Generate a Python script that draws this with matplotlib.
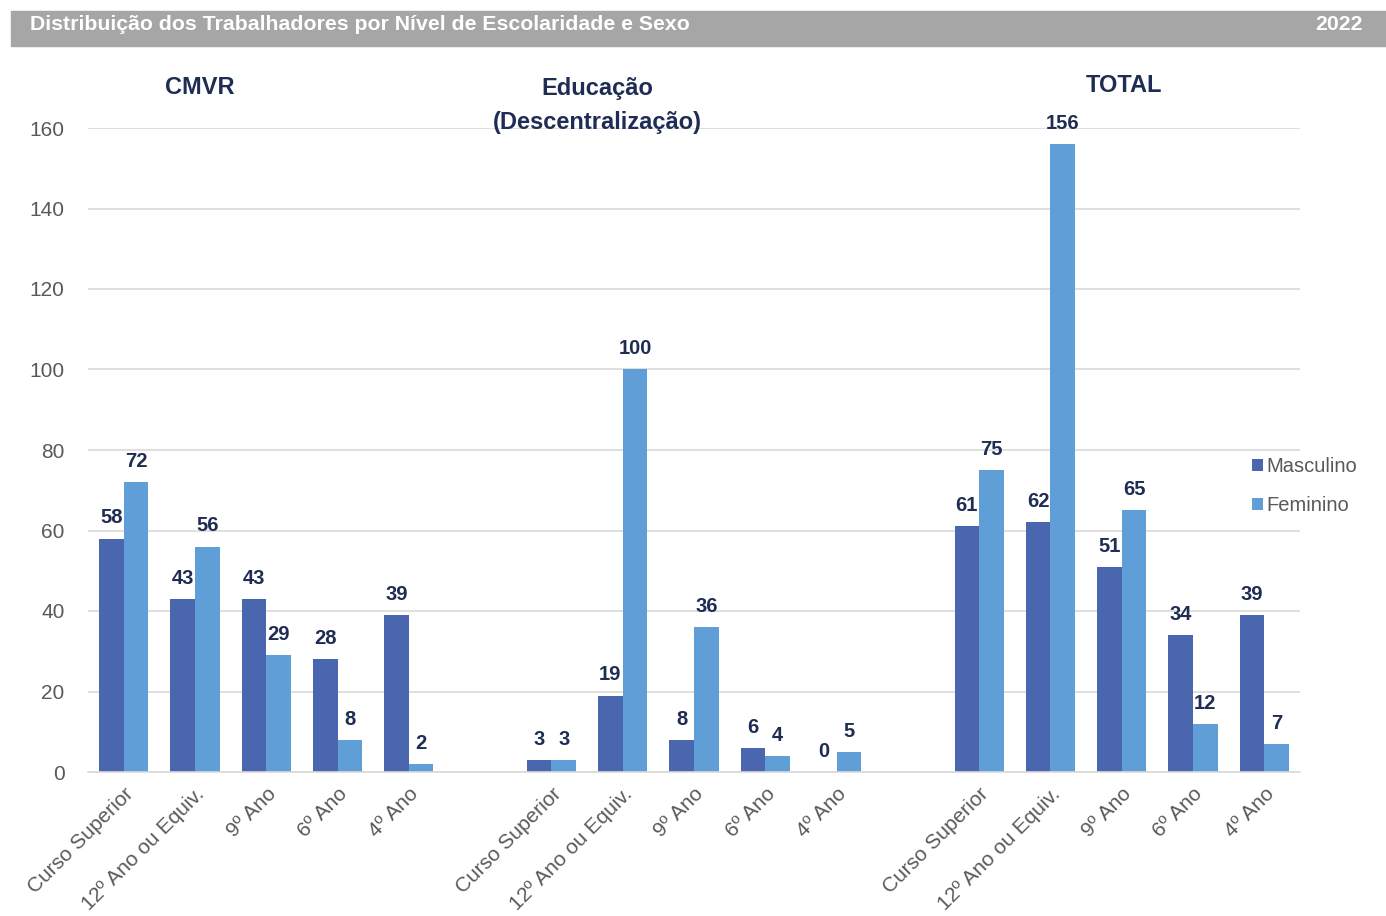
import numpy as np
import matplotlib.pyplot as plt

plt.rcParams['font.family'] = ['Liberation Sans', 'DejaVu Sans']

# data
levels = ['Curso Superior', '12º Ano ou Equiv.', '9º Ano', '6º Ano', '4º Ano']
groups = ['CMVR', 'Educação\n(Descentralização)', 'TOTAL']
masculino = [[58, 43, 43, 28, 39], [3, 19, 8, 6, 0], [61, 62, 51, 34, 39]]
feminino = [[72, 56, 29, 8, 2], [3, 100, 36, 4, 5], [75, 156, 65, 12, 7]]

c_masc = '#4A66AE'
c_fem = '#5F9ED6'
navy = '#1F2D54'
gray_txt = '#595959'

fig = plt.figure(figsize=(13.86, 9.16), dpi=100)
W, H = 1386, 916

# header bar
fig.patches.append(plt.Rectangle((11 / W, 1 - 46 / H), (W - 11) / W, 35 / H,
                                 transform=fig.transFigure, color='#A6A6A6', zorder=0))
fig.text(30 / W, 1 - 24 / H, 'Distribuição dos Trabalhadores por Nível de Escolaridade e Sexo',
         color='white', fontsize=15.3, fontweight='bold', va='center', ha='left')
fig.text(1363 / W, 1 - 24 / H, '2022', color='white', fontsize=15.3, fontweight='bold',
         va='center', ha='right')

ax = fig.add_axes([88 / W, 1 - 772 / H, (1300 - 88) / W, (772 - 128) / H])

w = 0.345
xs, labels = [], []
for gi in range(len(groups)):
    base = gi * 6
    pos = np.arange(len(levels)) + base
    xs.extend(pos)
    labels.extend(levels)
    bm = ax.bar(pos - w / 2, masculino[gi], w, color=c_masc, label='Masculino' if gi == 0 else None, zorder=2)
    bf = ax.bar(pos + w / 2, feminino[gi], w, color=c_fem, label='Feminino' if gi == 0 else None, zorder=2)
    for bars, vals in ((bm, masculino[gi]), (bf, feminino[gi])):
        for b, v in zip(bars, vals):
            ax.annotate(str(v), (b.get_x() + b.get_width() / 2, v), xytext=(0, 8),
                        textcoords='offset points', ha='center', va='bottom',
                        fontsize=14.5, fontweight='bold', color=navy, clip_on=False)

# group titles
ax.text(1.07, 170, groups[0], ha='center', va='center', fontsize=17, fontweight='bold', color=navy)
ax.text(6.65, 165.5, groups[1], ha='center', va='center', fontsize=17, fontweight='bold',
        color=navy, linespacing=1.6)
ax.text(14.03, 170.5, groups[2], ha='center', va='center', fontsize=17, fontweight='bold', color=navy)

ax.set_xlim(-0.5, 16.5)
ax.set_ylim(0, 160)
ax.set_yticks(np.arange(0, 161, 20))
ax.set_xticks(xs)
ax.set_xticklabels(labels, rotation=45, ha='right', rotation_mode='anchor', fontsize=15, color=gray_txt)
ax.tick_params(axis='x', length=0, pad=9)
ax.tick_params(axis='y', length=0, pad=17, labelsize=15, labelcolor=gray_txt)
ax.grid(axis='y', color='#D9D9D9', linewidth=1.2, zorder=0)
for s in ['top', 'right', 'left']:
    ax.spines[s].set_visible(False)
ax.spines['bottom'].set_color('#D9D9D9')
ax.spines['bottom'].set_linewidth(1.2)

ax.legend(loc='upper left', bbox_to_anchor=(1234 / W, 1 - 439 / H), bbox_transform=fig.transFigure,
          frameon=False, fontsize=14.5, handlelength=0.55, handleheight=0.55, handletextpad=0.15,
          labelspacing=1.0, labelcolor=gray_txt)

fig.savefig('out.png', dpi=100)
